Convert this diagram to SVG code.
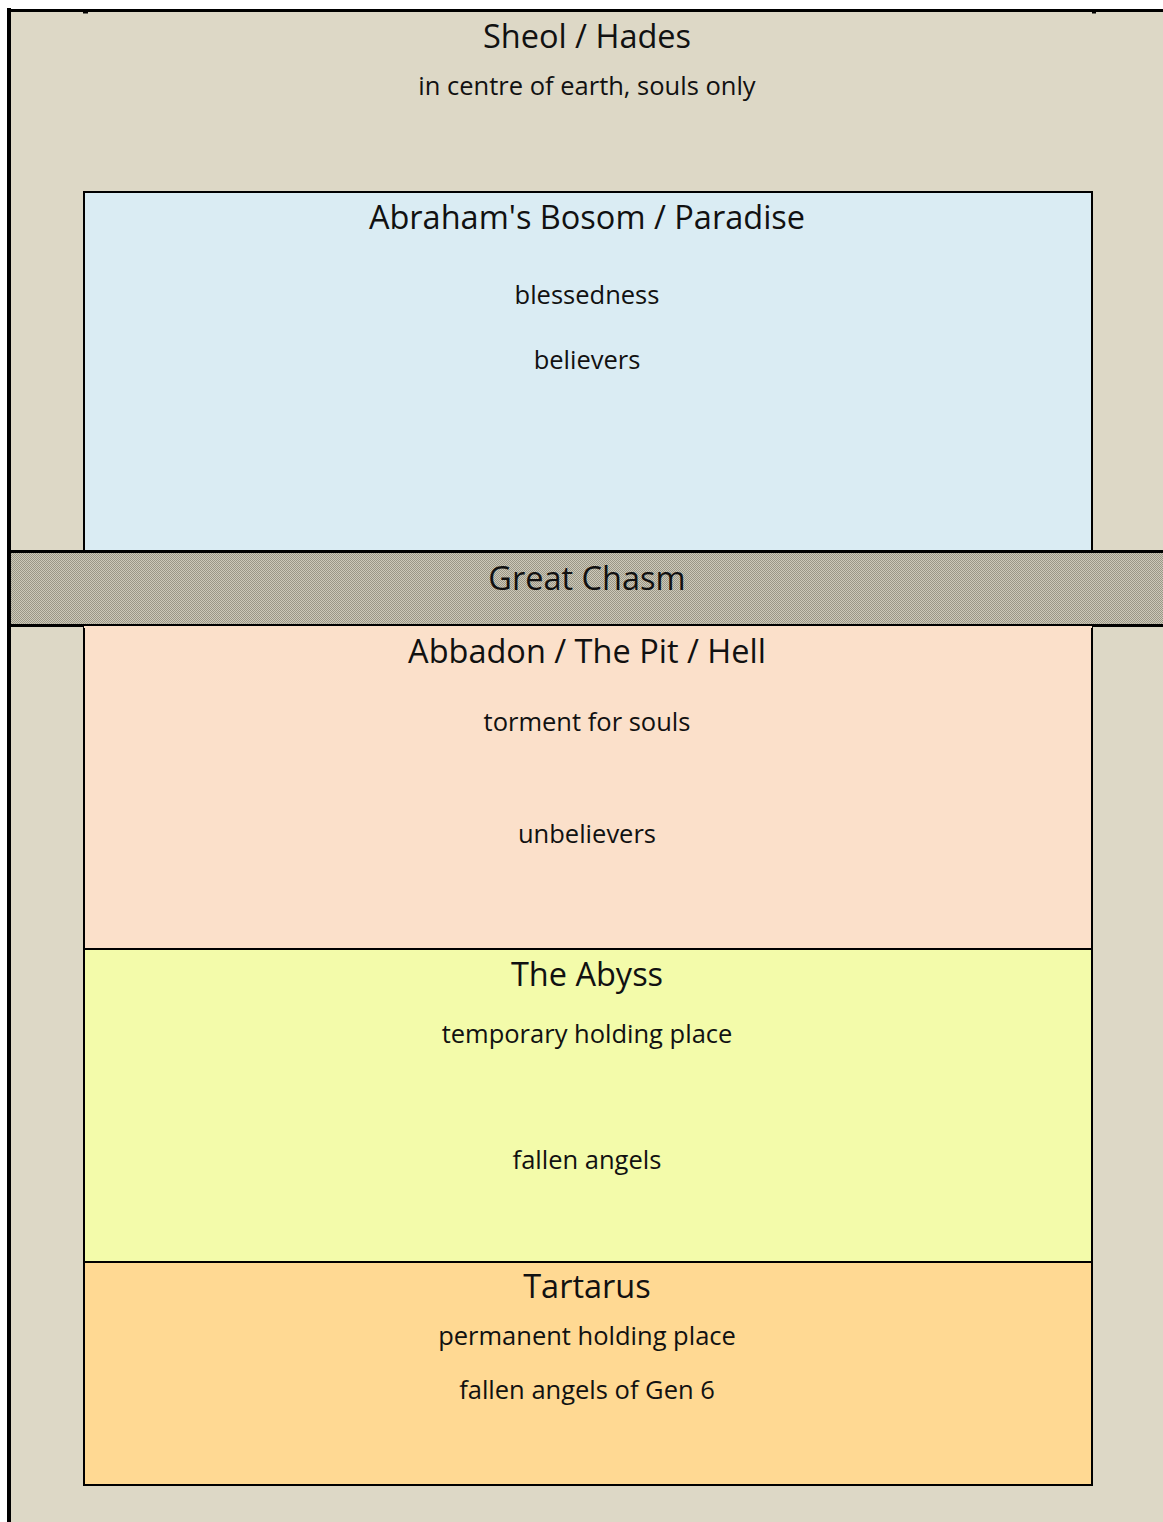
<svg xmlns="http://www.w3.org/2000/svg" width="1163" height="1522" viewBox="0 0 1163 1522">
<defs>
<pattern id="chk" width="2" height="2" patternUnits="userSpaceOnUse">
<rect width="2" height="2" fill="#cdc9b9"/>
<rect x="0" y="0" width="1" height="1" fill="#9a9686"/>
<rect x="1" y="1" width="1" height="1" fill="#9a9686"/>
</pattern>
<style>
text{font-family:"Open Sans","Noto Sans",sans-serif;fill:#111;text-anchor:middle}
.t{font-size:32.5px}
.s{font-size:25.5px}
.box{stroke:#000;stroke-width:2}
</style>
</defs>
<rect width="1163" height="1522" fill="#fff"/>
<g id="sheol">
<rect x="9" y="10.5" width="1154" height="1512" fill="#ddd8c6"/>
<line x1="9" y1="8" x2="9" y2="1522" stroke="#000" stroke-width="4"/>
<line x1="7" y1="10.5" x2="1163" y2="10.5" stroke="#000" stroke-width="3"/>
<rect x="83" y="12" width="5" height="1.5" fill="#000"/>
<rect x="1092" y="12" width="4" height="1.5" fill="#000"/>
<text class="t" x="587" y="48">Sheol / Hades</text>
<text class="s" x="587" y="95">in centre of earth, souls only</text>
</g>
<g id="paradise">
<rect class="box" x="84" y="192" width="1008" height="360" fill="#daecf3"/>
<text class="t" x="587" y="229">Abraham's Bosom / Paradise</text>
<text class="s" x="587" y="304">blessedness</text>
<text class="s" x="587" y="369">believers</text>
</g>
<g id="chasm">
<rect x="11" y="551.5" width="1152" height="74" fill="url(#chk)"/>
<line x1="11" y1="551.5" x2="1163" y2="551.5" stroke="#000" stroke-width="3"/>
<line x1="11" y1="625.5" x2="1163" y2="625.5" stroke="#000" stroke-width="3"/>
<text class="t" x="587" y="590">Great Chasm</text>
</g>
<g id="abbadon">
<rect class="box" x="84" y="627" width="1008" height="322" fill="#fbe0ca"/>
<line x1="84" y1="627" x2="1092" y2="627" stroke="#fbe0ca" stroke-width="2"/>
<text class="t" x="587" y="663">Abbadon / The Pit / Hell</text>
<text class="s" x="587" y="731">torment for souls</text>
<text class="s" x="587" y="843">unbelievers</text>
</g>
<g id="abyss">
<rect class="box" x="84" y="949" width="1008" height="313" fill="#f3fbaa"/>
<text class="t" x="587" y="986">The Abyss</text>
<text class="s" x="587" y="1043">temporary holding place</text>
<text class="s" x="587" y="1169">fallen angels</text>
</g>
<g id="tartarus">
<rect class="box" x="84" y="1262" width="1008" height="223" fill="#ffd993"/>
<text class="t" x="587" y="1298">Tartarus</text>
<text class="s" x="587" y="1345">permanent holding place</text>
<text class="s" x="587" y="1399">fallen angels of Gen 6</text>
</g>
<g id="connectors"></g>
</svg>
